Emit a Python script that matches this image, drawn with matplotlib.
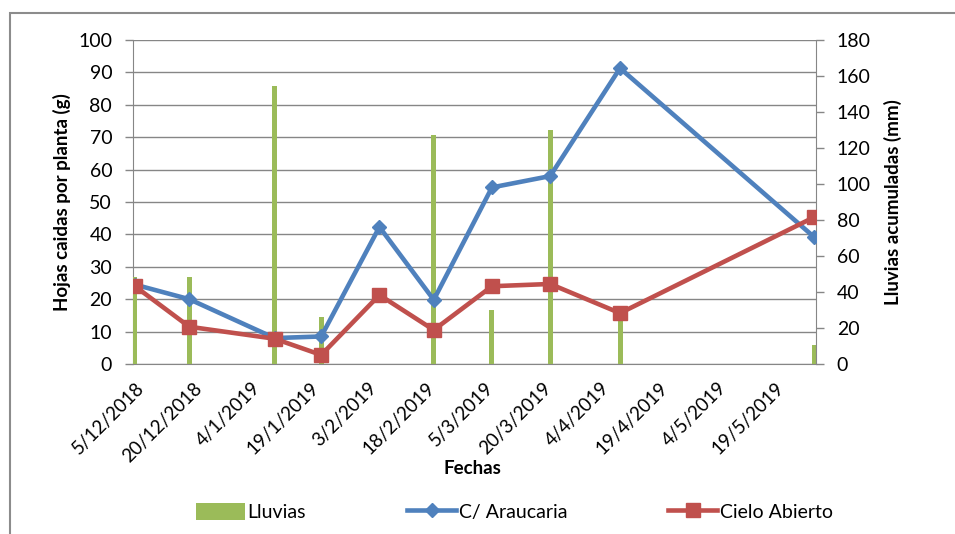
import matplotlib
matplotlib.use('Agg')
import matplotlib.pyplot as plt
import matplotlib.dates as mdates
from matplotlib.patches import Rectangle
from datetime import datetime, timedelta

# Fechas de muestreo y valores
fechas = ['5/12/2018', '19/12/2018', '10/1/2019', '22/1/2019', '6/2/2019',
          '20/2/2019', '7/3/2019', '22/3/2019', '9/4/2019', '29/5/2019']
lluvias = [48.5, 48.5, 154.7, 26.3, 0, 127.4, 30, 130.2, 25, 10.6]
araucaria = [24.5, 20, 8, 8.5, 42.3, 19.8, 54.5, 58, 91.3, 39.2]
cielo_abierto = [24, 11.5, 7.8, 2.8, 21.3, 10.5, 24, 24.7, 15.7, 45.3]

# Etiquetas del eje x (cada 15 dias)
etiquetas_x = ['5/12/2018', '20/12/2018', '4/1/2019', '19/1/2019', '3/2/2019',
               '18/2/2019', '5/3/2019', '20/3/2019', '4/4/2019', '19/4/2019',
               '4/5/2019', '19/5/2019']

verde = '#9BBB59'
azul = '#4F81BD'
rojo = '#C0504D'
gris = '#868686'

plt.rcParams['font.family'] = ['Lato', 'DejaVu Sans']
plt.rcParams['font.size'] = 14

x = [datetime.strptime(f, '%d/%m/%Y') for f in fechas]
x_ticks = [datetime.strptime(f, '%d/%m/%Y') for f in etiquetas_x]

fig = plt.figure(figsize=(9.55, 5.34), dpi=100)
ax = fig.add_axes([133/955, 1 - 364/534, (816 - 133)/955, (364 - 40)/534])
ax2 = ax.twinx()   # lluvias (eje derecho)
ax3 = ax.twinx()   # lineas por encima de las barras

ax2.bar(x, lluvias, width=timedelta(hours=31), color=verde, label='Lluvias')
ax3.plot(x, araucaria, color=azul, lw=3.3, marker='D', ms=7.5, label='C/ Araucaria')
ax3.plot(x, cielo_abierto, color=rojo, lw=3.3, marker='s', ms=10, label='Cielo Abierto')

ax.set_ylim(0, 100)
ax.set_yticks(range(0, 101, 10))
ax2.set_ylim(0, 180)
ax2.set_yticks(range(0, 181, 20))
ax3.set_ylim(0, 100)
ax3.yaxis.set_visible(False)

ax.set_xlim(mdates.date2num(x[0]) - 0.5, mdates.date2num(x[-1]) + 0.5)
ax.set_xticks(x_ticks)
ax.set_xticklabels(etiquetas_x, rotation=45, ha='right', va='top',
                   rotation_mode='anchor', fontsize=13.5)
ax.tick_params(axis='x', length=0, pad=11)
ax.tick_params(axis='y', length=6, width=1, color=gris, pad=9)
ax2.tick_params(axis='y', length=6, width=1, color=gris, pad=9)

ax.grid(axis='y', color=gris, lw=1.0)
ax.set_axisbelow(True)

for lado in ['top', 'right']:
    ax.spines[lado].set_visible(False)
for lado in ['left', 'bottom']:
    ax.spines[lado].set_color(gris)
for lado in ['top', 'left', 'bottom']:
    ax2.spines[lado].set_visible(False)
ax2.spines['right'].set_color(gris)
for lado in ax3.spines:
    ax3.spines[lado].set_visible(False)

# Titulos de ejes
fig.text(61.7/955, 1 - 202.5/534, 'Hojas caidas por planta (g)', rotation=90,
         ha='center', va='center', fontweight='bold', fontsize=13.5)
fig.text(893/955, 1 - 202.5/534, 'Lluvias acumuladas (mm)', rotation=90,
         ha='center', va='center', fontweight='bold', fontsize=13.5)
fig.text(472/955, 1 - 469/534, 'Fechas', ha='center', va='center',
         fontweight='bold', fontsize=13.5)

# Leyenda abajo
h2, l2 = ax2.get_legend_handles_labels()
h3, l3 = ax3.get_legend_handles_labels()
fig.legend(h2 + h3, l2 + l3, loc='center', bbox_to_anchor=(514.5/955, 1 - 512/534),
           ncol=3, frameon=False, handlelength=2.5, handleheight=0.95,
           handletextpad=0.15, columnspacing=5.2)

# Borde del area del grafico
fig.patches.append(Rectangle((10/955, -0.1), 1.2, 1.1 - 13/534, transform=fig.transFigure,
                             fill=False, ec='#8c8c8c', lw=1.5))

fig.savefig('out.png', dpi=100)
